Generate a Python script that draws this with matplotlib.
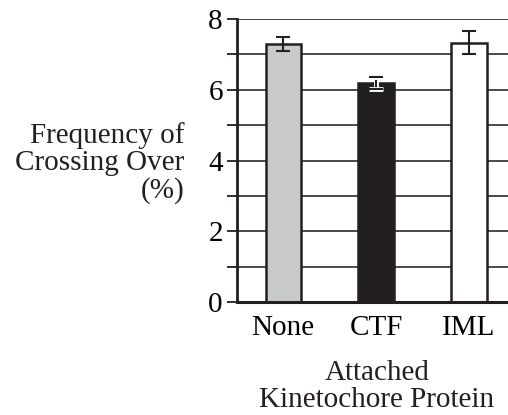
import matplotlib.pyplot as plt
import matplotlib.patheffects as pe

proteins = ['None', 'CTF', 'IML']
frequency = [7.30, 6.18, 7.33]
errors = [0.20, 0.17, 0.33]
bar_colors = ['#c8c9cb', '#231f20', '#ffffff']

plt.rcParams['font.family'] = ['Liberation Serif', 'DejaVu Serif']
fs = 21

fig = plt.figure(figsize=(5.08, 4.15), dpi=100)
ax = fig.add_axes([0.466, 0.272, 0.534, 0.682])

# Grid lines behind the bars
for y in range(0, 9):
    ax.axhline(y, color='#3a3a3a', lw=1.3, zorder=0)

x = range(len(proteins))
ax.bar(x, frequency, width=0.38, color=bar_colors, edgecolor='#231f20',
       linewidth=1.8, zorder=2)

for i in x:
    eb = ax.errorbar(i, frequency[i], yerr=errors[i], fmt='none', ecolor='#231f20',
                     elinewidth=1.5, capsize=5, capthick=1.5, zorder=3)
    if bar_colors[i] == '#231f20':
        for art in eb.lines[1] + tuple(eb.lines[2]):
            art.set_path_effects([pe.Stroke(linewidth=3.5, foreground='white'), pe.Normal()])

ax.set_xlim(-0.5, 2.42)
ax.set_ylim(0, 8)
ax.set_yticks([0, 2, 4, 6, 8])
ax.set_yticks([1, 3, 5, 7], minor=True)
ax.set_xticks(list(x))
ax.set_xticklabels(proteins, fontsize=fs)
ax.tick_params(axis='y', which='both', length=7, width=1.3, direction='out',
               labelsize=fs, pad=3, color='#231f20')
ax.tick_params(axis='x', length=0, pad=9)

for s in ['top', 'right']:
    ax.spines[s].set_visible(False)
for s in ['left', 'bottom']:
    ax.spines[s].set_color('#231f20')
    ax.spines[s].set_zorder(4)
ax.spines['left'].set_linewidth(2)
ax.spines['bottom'].set_linewidth(2.2)

fig.text(184 / 508, 0.608, 'Frequency of\nCrossing Over\n(%)', ha='right', va='center',
         fontsize=fs, linespacing=1.05, color='#231f20')
fig.text(377 / 508, 0.068, 'Attached\nKinetochore Protein', ha='center', va='center',
         fontsize=fs, linespacing=1.05, color='#231f20')

fig.savefig('out.png', dpi=100)
